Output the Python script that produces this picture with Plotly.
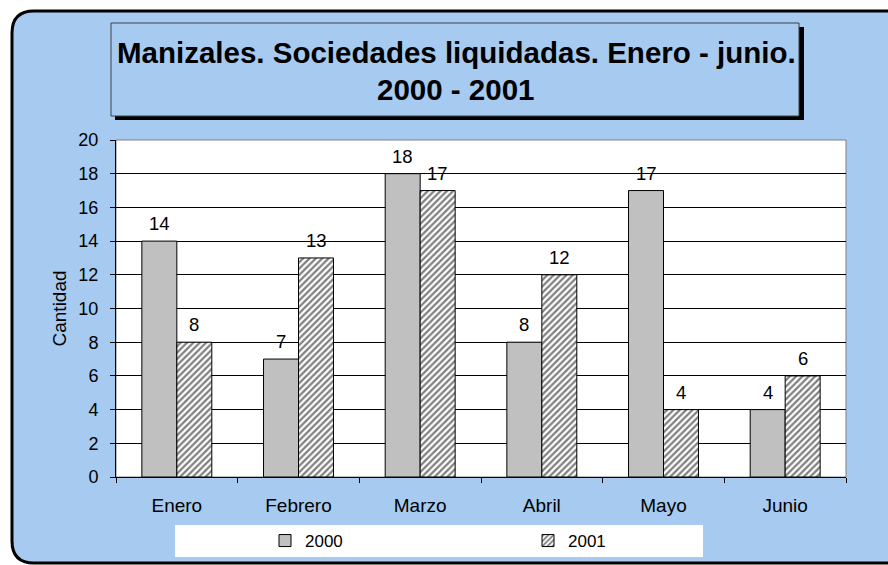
import plotly.graph_objects as go

months = ["Enero", "Febrero", "Marzo", "Abril", "Mayo", "Junio"]
vals_2000 = [14, 7, 18, 8, 17, 4]
vals_2001 = [8, 13, 17, 12, 4, 6]
series_names = ["2000", "2001"]
y_ticks = [0, 2, 4, 6, 8, 10, 12, 14, 16, 18, 20]
title_line1 = "Manizales. Sociedades liquidadas. Enero - junio."
title_line2 = "2000 - 2001"
y_title = "Cantidad"

W, H = 888, 565
L, R, T, B = 116, 846, 140, 477
FONT = "Liberation Sans, Arial, sans-serif"
BLUE = "#A6CAF0"


def px(p):
    return (p - L) / (R - L)


def py(p):
    return (B - p) / (B - T)


fig = go.Figure()
fig.add_trace(go.Bar(
    x=months, y=vals_2000, name=series_names[0],
    marker=dict(color="#C0C0C0", line=dict(color="#000000", width=1)),
))
fig.add_trace(go.Bar(
    x=months, y=vals_2001, name=series_names[1],
    marker=dict(color="#FFFFFF", line=dict(color="#000000", width=1),
                pattern=dict(shape="/", fgcolor="#000000", bgcolor="#FFFFFF",
                             size=4.5, solidity=0.5)),
))

shapes = []
# outer rounded frame: fill, then open border (left, top, bottom)
r = 22
x0, y0, x1, y1 = 12, 11, 900, 563
fill_path = (f"M {px(x0)},{py(y0 + r)} Q {px(x0)},{py(y0)} {px(x0 + r)},{py(y0)} "
             f"L {px(x1)},{py(y0)} L {px(x1)},{py(y1)} L {px(x0 + r)},{py(y1)} "
             f"Q {px(x0)},{py(y1)} {px(x0)},{py(y1 - r)} Z")
shapes.append(dict(type="path", xref="paper", yref="paper", path=fill_path,
                   fillcolor=BLUE, line=dict(width=0), layer="below"))
border_path = (f"M {px(x1)},{py(y0)} L {px(x0 + r)},{py(y0)} "
               f"Q {px(x0)},{py(y0)} {px(x0)},{py(y0 + r)} "
               f"L {px(x0)},{py(y1 - r)} Q {px(x0)},{py(y1)} {px(x0 + r)},{py(y1)} "
               f"L {px(x1)},{py(y1)}")
shapes.append(dict(type="path", xref="paper", yref="paper", path=border_path,
                   line=dict(color="#000000", width=3), layer="below"))
# plot area
shapes.append(dict(type="rect", xref="paper", yref="paper", x0=0, x1=1, y0=0, y1=1,
                   fillcolor="#FFFFFF", line=dict(color="#808080", width=1), layer="below"))
# title shadow and box
shapes.append(dict(type="rect", xref="paper", yref="paper",
                   x0=px(115), x1=px(804), y0=py(120), y1=py(27),
                   fillcolor="#000000", line=dict(width=0), layer="below"))
shapes.append(dict(type="rect", xref="paper", yref="paper",
                   x0=px(111), x1=px(799), y0=py(116), y1=py(23),
                   fillcolor=BLUE, line=dict(color="#404040", width=1), layer="below"))
# legend box
shapes.append(dict(type="rect", xref="paper", yref="paper",
                   x0=px(175), x1=px(703), y0=py(557), y1=py(525),
                   fillcolor="#FFFFFF", line=dict(width=0), layer="below"))

annotations = [
    dict(text=f"<b>{title_line1}</b>", xref="paper", yref="paper", x=px(456), y=py(52),
         xanchor="center", yanchor="middle", showarrow=False,
         font=dict(family=FONT, size=29.5, color="#000000")),
    dict(text=f"<b>{title_line2}</b>", xref="paper", yref="paper", x=px(455), y=py(89),
         xanchor="center", yanchor="middle", showarrow=False,
         font=dict(family=FONT, size=29.5, color="#000000")),
    dict(text=y_title, xref="paper", yref="paper", x=px(59), y=0.5, textangle=-90,
         xanchor="center", yanchor="middle", showarrow=False,
         font=dict(family=FONT, size=19, color="#000000")),
]
for m, a, b in zip(months, vals_2000, vals_2001):
    annotations.append(dict(x=m, y=a, xref="x", yref="y", text=str(a), showarrow=False,
                            xshift=-17.5, yanchor="bottom", yshift=5,
                            font=dict(family=FONT, size=18.5, color="#000000")))
    annotations.append(dict(x=m, y=b, xref="x", yref="y", text=str(b), showarrow=False,
                            xshift=17.5, yanchor="bottom", yshift=5,
                            font=dict(family=FONT, size=18.5, color="#000000")))

fig.update_layout(
    width=W, height=H,
    margin=dict(l=L, r=W - R, t=T, b=H - B, autoexpand=False),
    paper_bgcolor="#FFFFFF",
    plot_bgcolor="rgba(0,0,0,0)",
    barmode="group", bargap=0.425, bargroupgap=0,
    shapes=shapes, annotations=annotations,
    showlegend=True,
    legend=dict(orientation="h", x=px(265), y=py(541), xanchor="left", yanchor="middle",
                bgcolor="rgba(0,0,0,0)", borderwidth=0,
                entrywidth=218, entrywidthmode="pixels", itemclick=False,
                font=dict(family=FONT, size=17, color="#000000")),
    font=dict(family=FONT, size=18, color="#000000"),
)
fig.update_xaxes(
    showline=True, linecolor="#000000", linewidth=1,
    ticks="outside", tickson="boundaries", ticklen=5, tickcolor="#000000",
    ticklabelstandoff=11, tickfont=dict(family=FONT, size=19, color="#000000"),
    showgrid=False, zeroline=False, fixedrange=True,
)
fig.update_yaxes(
    range=[0, 20], tickvals=y_ticks,
    showline=True, linecolor="#000000", linewidth=1,
    ticks="outside", ticklen=5, tickcolor="#000000",
    ticklabelstandoff=8, tickfont=dict(family=FONT, size=18, color="#000000"),
    showgrid=True, gridcolor="#000000", gridwidth=1, zeroline=False, fixedrange=True,
)

fig.write_html(
    "out.html",
    config={"displayModeBar": False},
    post_script="document.body.style.margin='0';document.body.style.overflow='hidden';",
)
